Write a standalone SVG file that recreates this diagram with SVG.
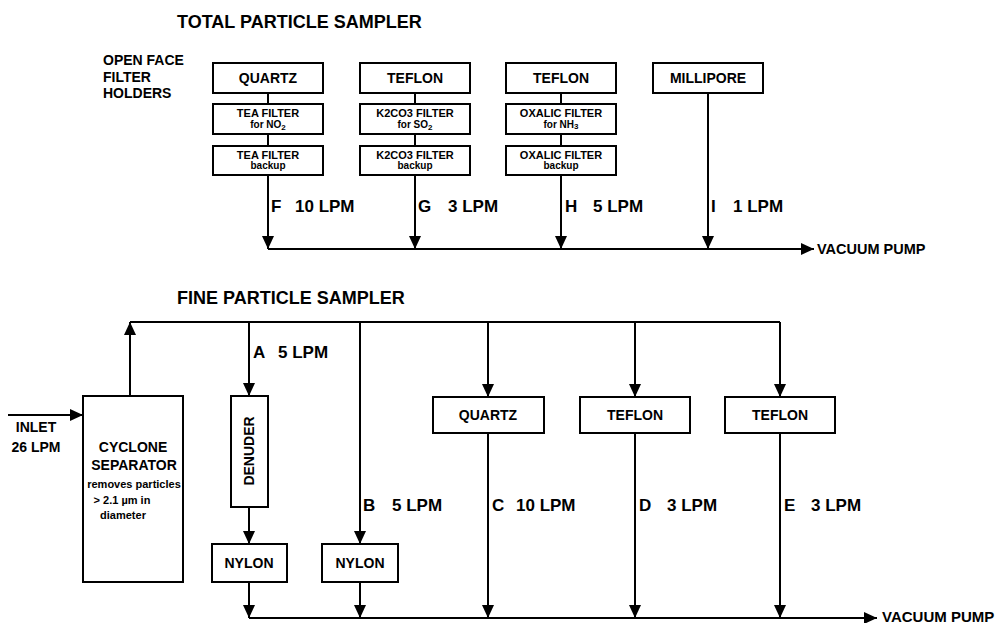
<svg xmlns="http://www.w3.org/2000/svg" width="1000" height="623" viewBox="0 0 1000 623">
<defs>
<marker id="ah" markerUnits="userSpaceOnUse" markerWidth="13" markerHeight="12" refX="13" refY="6" orient="auto"><path d="M0,0 L13,6 L0,12 z" fill="#000"/></marker>
<style>
text{font-family:"Liberation Sans",Arial,sans-serif;font-weight:bold;fill:#000}
.box{fill:#fff;stroke:#000;stroke-width:2}
.ln{fill:none;stroke:#000;stroke-width:2}
.arr{fill:none;stroke:#000;stroke-width:2;marker-end:url(#ah)}
.title{font-size:18px}
.lbl{font-size:14px}
.vac{font-size:14.5px}
.flow{font-size:17px}
.bx{font-size:14px;text-anchor:middle}
.sm{font-size:11px;text-anchor:middle}
.xs{font-size:10px;text-anchor:middle}
.mid{text-anchor:middle}
</style>
</defs>
<rect width="1000" height="623" fill="#fff"/>

<g id="titles">
<text class="title" x="177" y="28">TOTAL PARTICLE SAMPLER</text>
<text class="lbl" x="103" y="65">OPEN FACE</text>
<text class="lbl" x="103" y="82">FILTER</text>
<text class="lbl" x="103" y="98">HOLDERS</text>
<text class="title" x="177" y="304">FINE PARTICLE SAMPLER</text>
</g>

<g id="connectors">
<path class="ln" d="M268,93V104M268,134V146M415,93V104M415,134V146M561,93V104M561,134V146"/>
<path class="arr" d="M268,175V249"/>
<path class="arr" d="M415,175V249"/>
<path class="arr" d="M561,175V249"/>
<path class="arr" d="M708,93V249"/>
<path class="arr" d="M268,249H814"/>
<path class="arr" d="M8,415H83"/>
<path class="arr" d="M130,396V322"/>
<path class="ln" d="M130,322H780"/>
<path class="arr" d="M249,322V396"/>
<path class="arr" d="M360,322V544"/>
<path class="arr" d="M488,322V397"/>
<path class="arr" d="M635,322V397"/>
<path class="arr" d="M780,322V397"/>
<path class="arr" d="M249,507V544"/>
<path class="arr" d="M249,582V618"/>
<path class="arr" d="M360,582V618"/>
<path class="arr" d="M488,433V618"/>
<path class="arr" d="M635,433V618"/>
<path class="arr" d="M780,433V618"/>
<path class="arr" d="M249,618H877"/>
</g>

<g id="flow-labels">
<text class="flow" x="271" y="212">F <tspan x="295">10 LPM</tspan></text>
<text class="flow" x="418" y="212">G <tspan x="448">3 LPM</tspan></text>
<text class="flow" x="565" y="212">H <tspan x="593">5 LPM</tspan></text>
<text class="flow" x="711" y="212">I <tspan x="733">1 LPM</tspan></text>
<text class="vac" x="817" y="254">VACUUM PUMP</text>
<text class="flow" x="253" y="358">A <tspan x="278">5 LPM</tspan></text>
<text class="flow" x="363" y="511">B <tspan x="392">5 LPM</tspan></text>
<text class="flow" x="492" y="511">C <tspan x="516">10 LPM</tspan></text>
<text class="flow" x="639" y="511">D <tspan x="667">3 LPM</tspan></text>
<text class="flow" x="784" y="511">E <tspan x="811">3 LPM</tspan></text>
<text class="vac" x="882" y="622" style="font-size:15px">VACUUM PUMP</text>
<text class="lbl mid" x="36" y="432">INLET</text>
<text class="lbl mid" x="36" y="452">26 LPM</text>
</g>

<g id="quartz-top">
<rect class="box" x="213" y="63" width="110" height="30"/>
<text class="bx" x="268" y="83">QUARTZ</text>
</g>
<g id="tea-no2">
<rect class="box" x="213" y="104" width="110" height="30"/>
<text class="sm" x="268" y="117">TEA FILTER</text>
<text class="xs" x="268" y="128">for NO<tspan font-size="8" dy="2">2</tspan></text>
</g>
<g id="tea-backup">
<rect class="box" x="213" y="146" width="110" height="29"/>
<text class="sm" x="268" y="159">TEA FILTER</text>
<text class="xs" x="268" y="169">backup</text>
</g>

<g id="teflon-top-1">
<rect class="box" x="360" y="63" width="110" height="30"/>
<text class="bx" x="415" y="83">TEFLON</text>
</g>
<g id="k2co3-so2">
<rect class="box" x="360" y="104" width="110" height="30"/>
<text class="sm" x="415" y="117">K2CO3 FILTER</text>
<text class="xs" x="415" y="128">for SO<tspan font-size="8" dy="2">2</tspan></text>
</g>
<g id="k2co3-backup">
<rect class="box" x="360" y="146" width="110" height="29"/>
<text class="sm" x="415" y="159">K2CO3 FILTER</text>
<text class="xs" x="415" y="169">backup</text>
</g>

<g id="teflon-top-2">
<rect class="box" x="506" y="63" width="110" height="30"/>
<text class="bx" x="561" y="83">TEFLON</text>
</g>
<g id="oxalic-nh3">
<rect class="box" x="506" y="104" width="110" height="30"/>
<text class="sm" x="561" y="117">OXALIC FILTER</text>
<text class="xs" x="561" y="128">for NH<tspan font-size="8" dy="1">3</tspan></text>
</g>
<g id="oxalic-backup">
<rect class="box" x="506" y="146" width="110" height="29"/>
<text class="sm" x="561" y="159">OXALIC FILTER</text>
<text class="xs" x="561" y="169">backup</text>
</g>

<g id="millipore">
<rect class="box" x="653" y="63" width="110" height="30"/>
<text class="bx" x="708" y="83">MILLIPORE</text>
</g>

<g id="cyclone">
<rect class="box" x="83" y="396" width="100" height="186"/>
<text class="bx" x="133" y="452">CYCLONE</text>
<text class="bx" x="134" y="470">SEPARATOR</text>
<text class="sm" x="134" y="488">removes particles</text>
<text class="sm" x="122" y="504">&gt; 2.1 µm in</text>
<text class="sm" x="123" y="519">diameter</text>
</g>

<g id="denuder">
<rect class="box" x="231" y="396" width="37" height="111"/>
<text class="bx" transform="translate(254,451) rotate(-90)" x="0" y="0">DENUDER</text>
</g>

<g id="nylon-1">
<rect class="box" x="212" y="544" width="75" height="38"/>
<text class="bx" x="249" y="568">NYLON</text>
</g>
<g id="nylon-2">
<rect class="box" x="322" y="544" width="76" height="38"/>
<text class="bx" x="360" y="568">NYLON</text>
</g>

<g id="quartz-fine">
<rect class="box" x="433" y="397" width="111" height="36"/>
<text class="bx" x="488" y="420">QUARTZ</text>
</g>
<g id="teflon-fine-1">
<rect class="box" x="580" y="397" width="110" height="36"/>
<text class="bx" x="635" y="420">TEFLON</text>
</g>
<g id="teflon-fine-2">
<rect class="box" x="725" y="397" width="110" height="36"/>
<text class="bx" x="780" y="420">TEFLON</text>
</g>
</svg>
